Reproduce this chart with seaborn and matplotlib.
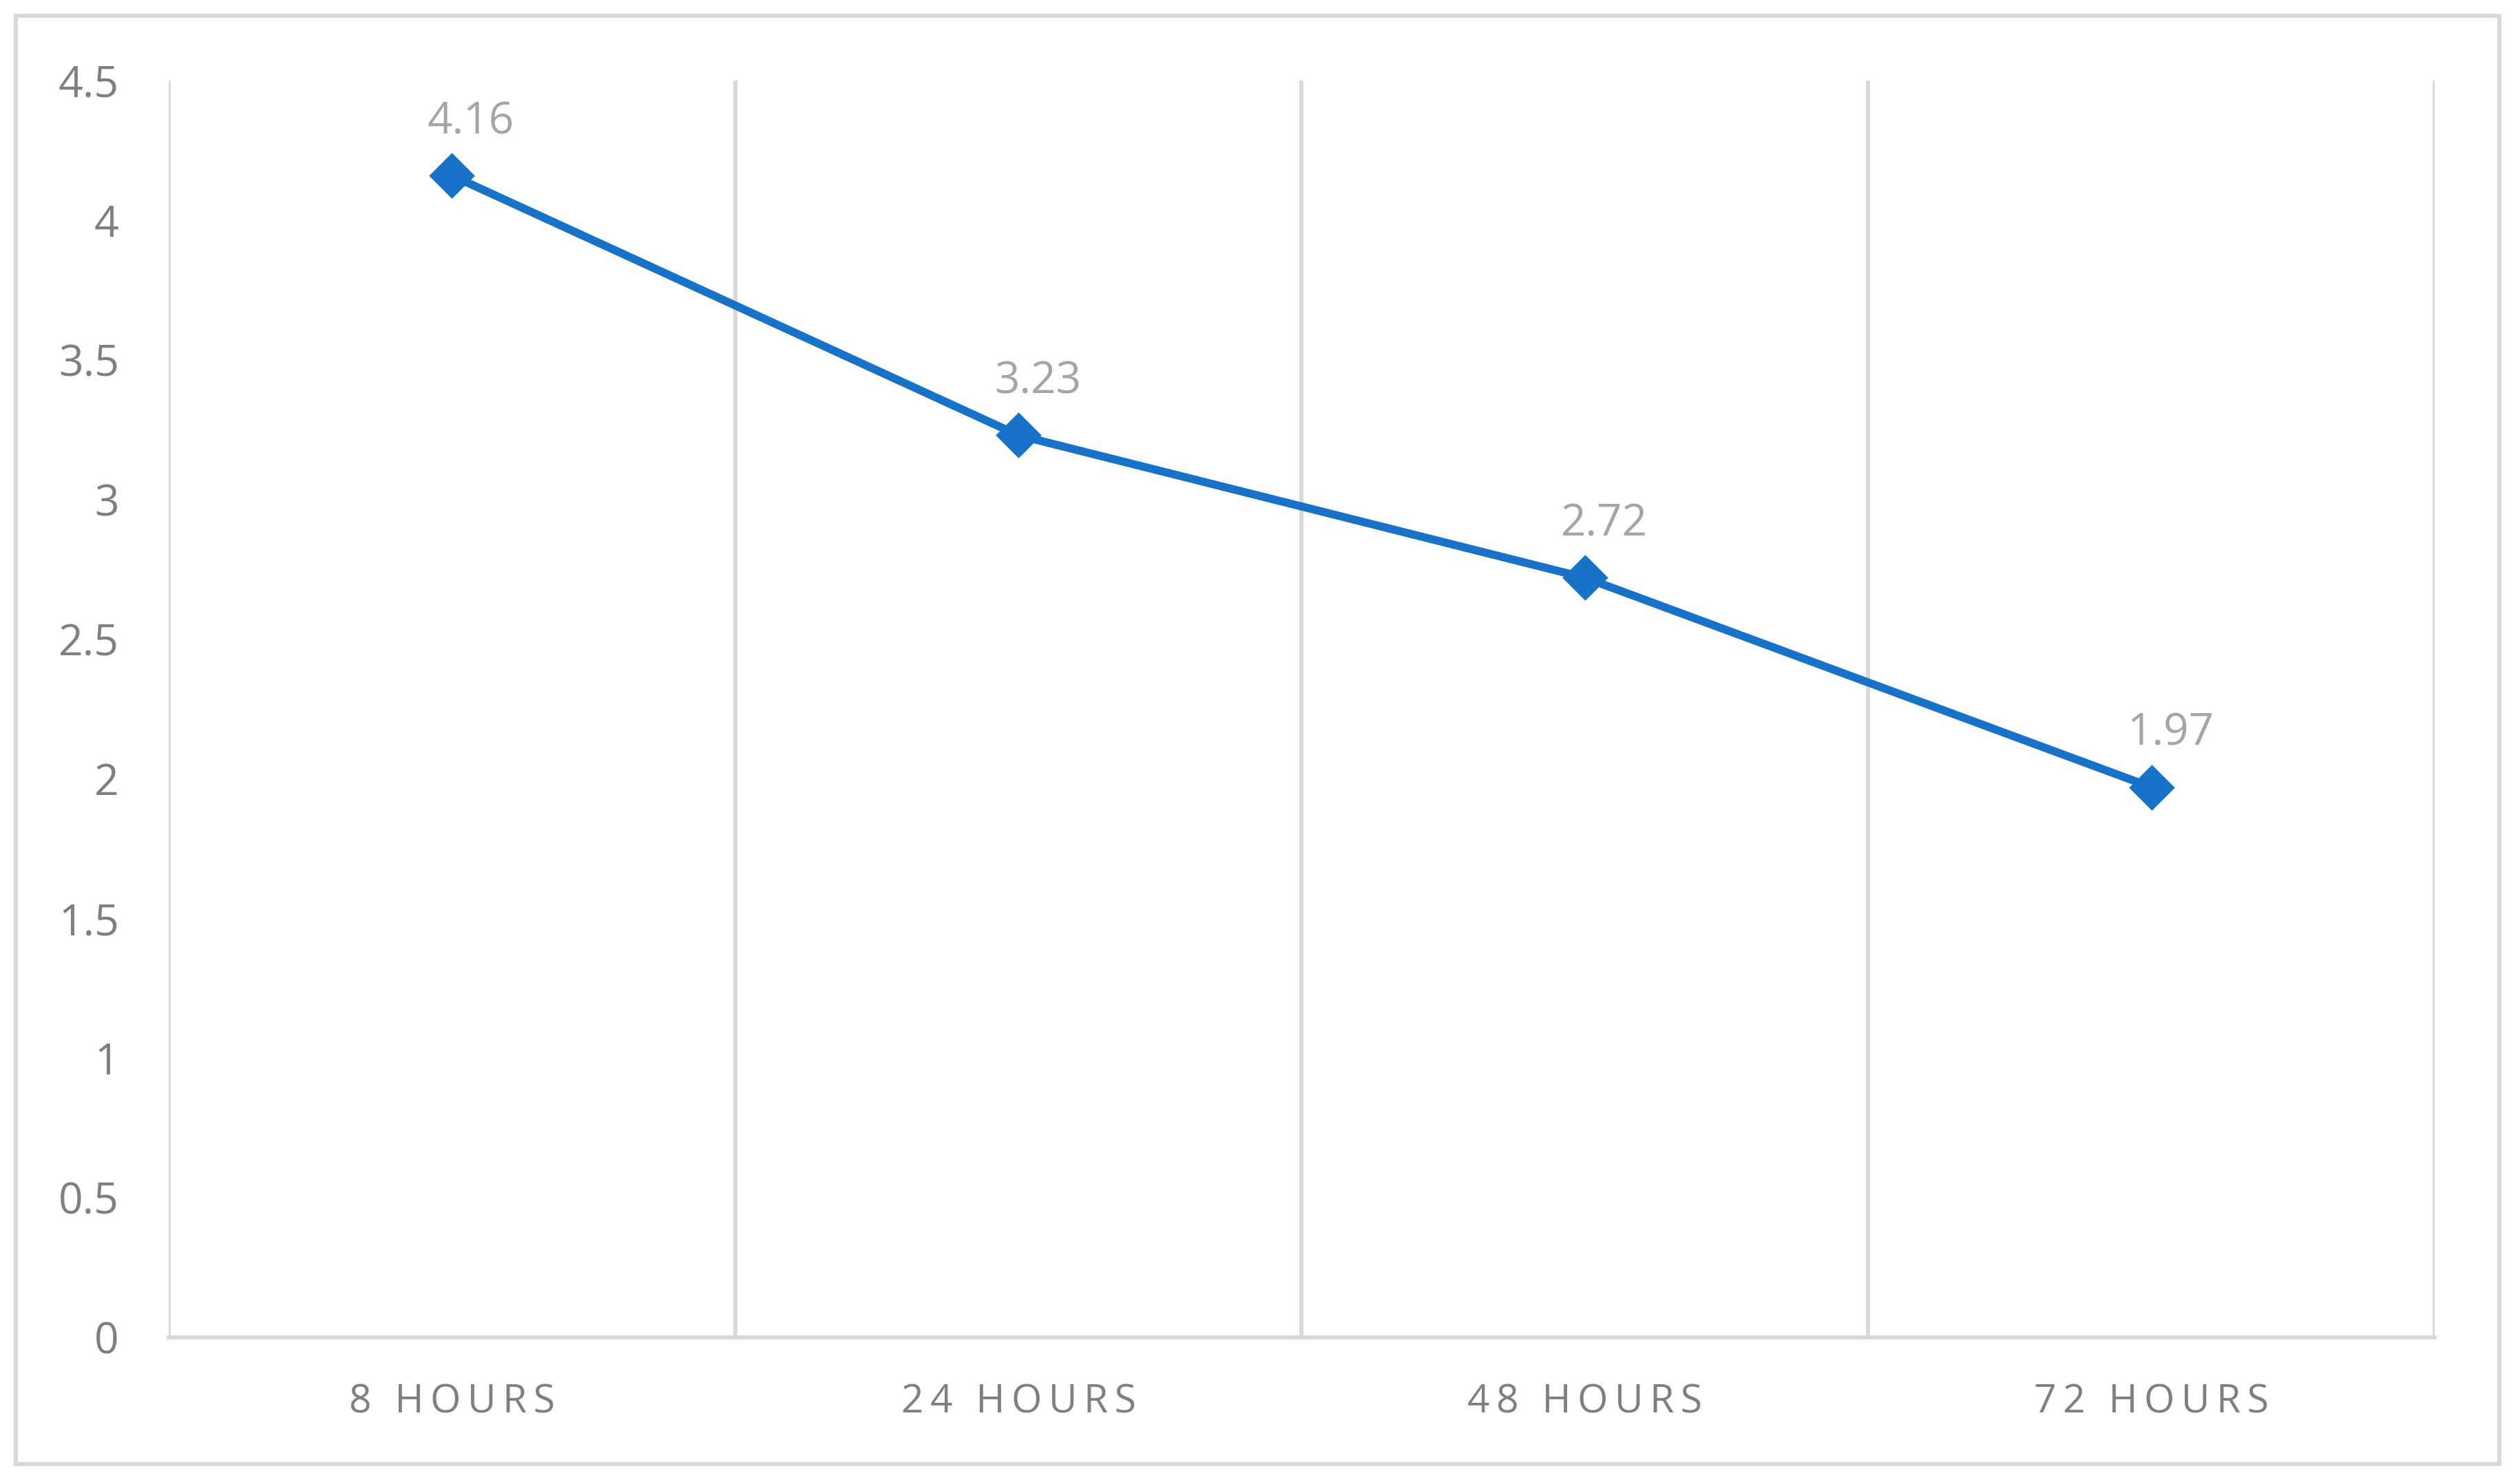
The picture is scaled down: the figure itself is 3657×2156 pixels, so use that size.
import numpy as np
import pandas as pd
import matplotlib
matplotlib.use("Agg")
import matplotlib.pyplot as plt
from matplotlib.patches import Rectangle
import seaborn as sns

# data
categories = ["8 HOURS", "24 HOURS", "48 HOURS", "72 HOURS"]
values = [4.16, 3.23, 2.72, 1.97]
y_ticks = [0, 0.5, 1, 1.5, 2, 2.5, 3, 3.5, 4, 4.5]

line_color = "#1872C8"
grid_color = "#D9D9D9"
tick_color = "#7F7F7F"
label_color = "#A5A5A5"

sns.set_style("white")
plt.rcParams["font.family"] = ["Open Sans", "DejaVu Sans"]

df = pd.DataFrame({"time": categories, "value": values})

fig = plt.figure(figsize=(36.57, 21.56), dpi=100)
ax = fig.add_axes([0.0670, 0.0988, 0.8999, 0.8469])

sns.pointplot(data=df, x="time", y="value", color=line_color, markers="D",
              linewidth=8.5, markersize=27, ax=ax)

# data labels, sitting above and a little right of each point
for i, v in enumerate(values):
    ax.annotate(f"{v:.2f}", (i, v), xytext=(20, 56), textcoords="offset points",
                ha="center", va="center", fontsize=46, color=label_color)

ax.set_xlim(-0.5, len(categories) - 0.5)
ax.set_ylim(0, 4.5)
ax.set_yticks(y_ticks)
ax.set_yticklabels([f"{t:g}" for t in y_ticks])
ax.set_xticks(range(len(categories)))
ax.set_xticklabels(["\u2009".join(c) for c in categories])
ax.set_xlabel("")
ax.set_ylabel("")

# vertical gridlines on category boundaries
ax.set_xticks(np.arange(len(categories) + 1) - 0.5, minor=True)
ax.grid(False)
ax.grid(which="minor", axis="x", color=grid_color, linewidth=4.3)
ax.tick_params(axis="y", which="both", length=0, pad=52, labelsize=45, labelcolor=tick_color)
ax.tick_params(axis="x", which="both", length=0, pad=48, labelsize=41, labelcolor=tick_color)

for side in ["top", "right", "left"]:
    ax.spines[side].set_visible(False)
ax.spines["bottom"].set_color(grid_color)
ax.spines["bottom"].set_linewidth(4.3)

# outer chart border
fig.add_artist(Rectangle((0.0063, 0.0134), 0.9862, 0.9760, transform=fig.transFigure,
                         fill=False, edgecolor=grid_color, linewidth=4.3))

fig.savefig("out.png", dpi=100, facecolor="white")
